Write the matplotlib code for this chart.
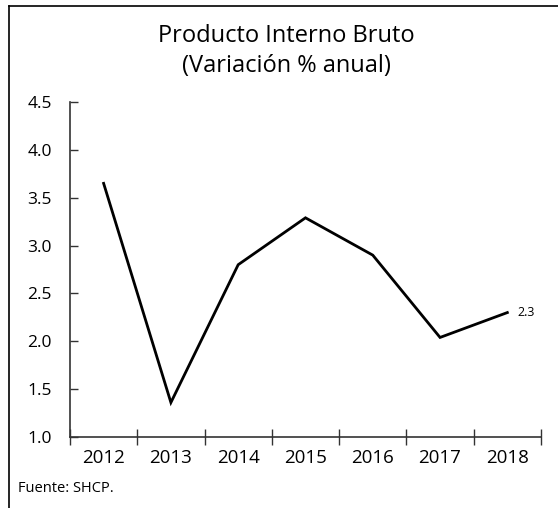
import matplotlib
matplotlib.use("Agg")
import matplotlib.pyplot as plt
from matplotlib.lines import Line2D

# Datos
anios = ["2012", "2013", "2014", "2015", "2016", "2017", "2018"]
pib = [3.65, 1.36, 2.80, 3.29, 2.90, 2.04, 2.30]
yticks = [1.0, 1.5, 2.0, 2.5, 3.0, 3.5, 4.0, 4.5]

plt.rcParams["font.family"] = ["Open Sans", "DejaVu Sans"]

fig = plt.figure(figsize=(5.58, 5.08), dpi=100)
ax = fig.add_axes([0.1254, 0.1398, 0.8441, 0.6594])

x = list(range(len(anios)))
ax.plot(x, pib, color="black", linewidth=2.0, solid_joinstyle="miter", clip_on=False)
ax.text(x[-1] + 0.15, pib[-1], f"{pib[-1]:.1f}", fontsize=9, va="center", ha="left")

ax.set_xlim(-0.5, len(anios) - 0.5)
ax.set_ylim(1.0, 4.5)
ax.set_yticks(yticks)
ax.set_yticklabels([f"{v:.1f}" for v in yticks], fontsize=12.5)
ax.set_xticks([i - 0.5 for i in range(len(anios) + 1)], minor=False)
ax.set_xticklabels([])
ax.set_xticks(x, minor=True)
ax.set_xticklabels(anios, minor=True, fontsize=13.5)

ax.tick_params(axis="y", direction="in", length=6, width=1, color="#333333", pad=13)
ax.tick_params(axis="x", which="major", direction="inout", length=12, width=1, color="#333333")
ax.tick_params(axis="x", which="minor", length=0, pad=9)

for s in ["top", "right"]:
    ax.spines[s].set_visible(False)
for s in ["left", "bottom"]:
    ax.spines[s].set_color("#333333")
    ax.spines[s].set_linewidth(1.2)

fig.text(0.514, 0.90, "Producto Interno Bruto\n(Variación % anual)", ha="center", va="center",
         fontsize=17, linespacing=1.3)
fig.text(0.032, 0.039, "Fuente: SHCP.", ha="left", va="center", fontsize=10.5)

# marco
fig.add_artist(Line2D([0.017, 1.0], [0.988, 0.988], color="black", linewidth=1.2))
fig.add_artist(Line2D([0.017, 0.017], [0.0, 0.988], color="black", linewidth=1.2))

fig.savefig("out.png", dpi=100)
